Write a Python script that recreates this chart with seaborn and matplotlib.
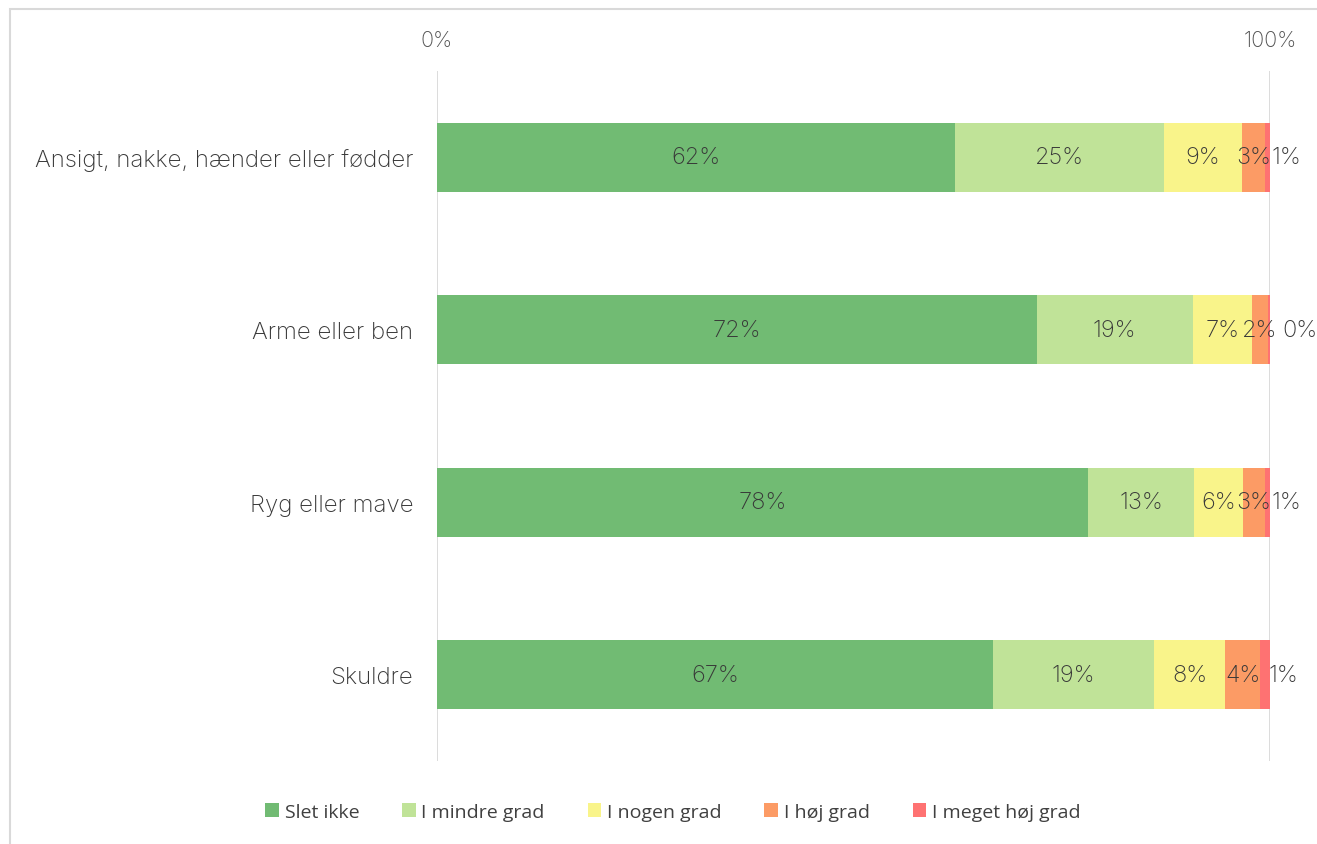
import numpy as np
import pandas as pd
import matplotlib.pyplot as plt
import seaborn as sns
from matplotlib.patches import Rectangle

# Data (percent)
categories = ["Ansigt, nakke, hænder eller fødder", "Arme eller ben", "Ryg eller mave", "Skuldre"]
series = ["Slet ikke", "I mindre grad", "I nogen grad", "I høj grad", "I meget høj grad"]
slet_ikke = [62.2, 72.0, 78.1, 66.7]
mindre_grad = [25.1, 18.7, 12.8, 19.4]
nogen_grad = [9.3, 7.1, 5.9, 8.5]
hoej_grad = [2.8, 2.0, 2.6, 4.2]
meget_hoej_grad = [0.6, 0.2, 0.6, 1.2]

colors = ["#71BB73", "#C0E398", "#F9F48A", "#FC9B65", "#FE7272"]

sns.set_style("white")
plt.rcParams['font.family'] = ['Inter', 'DejaVu Sans']

df = pd.DataFrame({
    "Category": categories,
    series[0]: slet_ikke,
    series[1]: mindre_grad,
    series[2]: nogen_grad,
    series[3]: hoej_grad,
    series[4]: meget_hoej_grad,
})
cum = df[series].cumsum(axis=1)

fig = plt.figure(figsize=(13.17, 8.45), dpi=100)
ax = fig.add_axes([437 / 1317, 1 - 762 / 845, 833 / 1317, 690 / 845])

# draw from the full stack down so each layer covers the one below
for s, c in reversed(list(zip(series, colors))):
    sns.barplot(x=cum[s], y=df["Category"], color=c, width=0.4, orient="h",
                linewidth=0, ax=ax, label=s, saturation=1)

ax.set_xlim(0, 100)
ax.set_ylim(3.5, -0.5)
ax.set_xlabel("")
ax.set_ylabel("")
for sp in ax.spines.values():
    sp.set_visible(False)

# only the 0% and 100% gridlines
for xv in [0, 100]:
    ax.axvline(xv, color="#d9d9d9", lw=1.3, zorder=0)
ax.set_xticks([0, 100])
ax.set_xticklabels(["0%", "100%"])
ax.xaxis.tick_top()
ax.tick_params(axis="x", length=0, pad=15, labelsize=15.5, labelcolor="#505050")
ax.tick_params(axis="y", length=0, pad=17, labelsize=17.3, labelcolor="#383838")
for t in ax.get_xticklabels() + ax.get_yticklabels():
    t.set_fontweight("light")

# segment labels
red_shift = [19, 31, 19, 18]
for i in range(len(categories)):
    left = 0
    for j, s in enumerate(series):
        v = df.loc[i, s]
        center = left + v / 2
        txt = f"{round(v):.0f}%"
        if j == len(series) - 1:
            ax.annotate(txt, (center, i), xytext=(red_shift[i] * 0.72, 0), textcoords="offset points",
                        ha="center", va="center", fontsize=17, color="#383838", fontweight="light")
        else:
            ax.text(center, i, txt, ha="center", va="center", fontsize=17, color="#383838",
                    fontweight="light")
        left += v

# legend in the original series order
handles, labels = ax.get_legend_handles_labels()
order = [labels.index(s) for s in series]
fig.legend([handles[k] for k in order], [labels[k] for k in order],
           loc="center", bbox_to_anchor=(0.511, 1 - 813 / 845), ncol=5, frameon=False,
           handlelength=0.7, handleheight=0.7, handletextpad=0.3, columnspacing=2.2,
           prop={"family": ["Open Sans", "DejaVu Sans"], "size": 14}, labelcolor="#404040")
ax.legend_.remove() if ax.legend_ else None

# light border around the chart area
fig.patches.append(Rectangle((10 / 1317, -0.1), 1.2, 1 - 10 / 845 + 0.1, transform=fig.transFigure,
                             fill=False, edgecolor="#d9d9d9", lw=1.5))

fig.savefig("out.png", dpi=100)
